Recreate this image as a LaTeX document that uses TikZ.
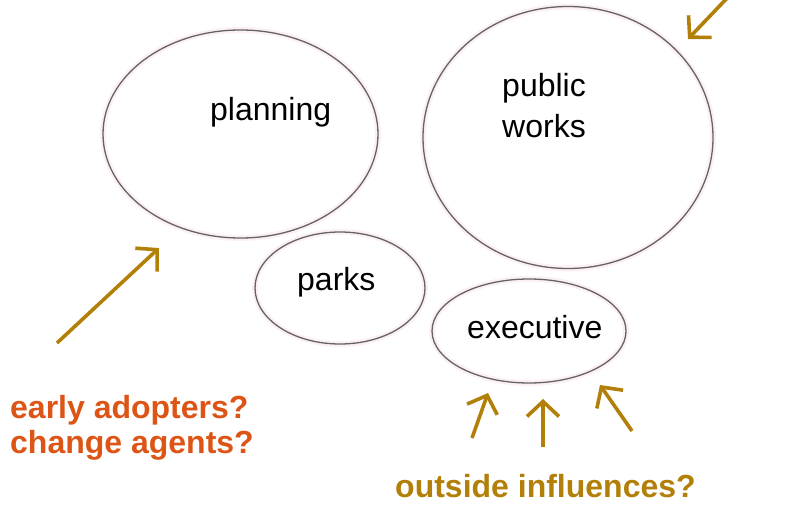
\documentclass[tikz,border=0pt]{standalone}
\usepackage{fontspec}
\setmainfont{Liberation Sans}
\usepackage{tikz}
\usetikzlibrary{shapes.geometric,arrows.meta,positioning}
\definecolor{rimgray}{RGB}{100,100,100}
\definecolor{halopink}{RGB}{252,240,243}
\definecolor{gold}{RGB}{178,128,8}
\definecolor{rust}{RGB}{221,85,22}
\tikzset{
unit/.style={shape=ellipse, draw=rimgray, line width=1.3pt, inner sep=0pt,
  preaction={draw=halopink, line width=6pt}}, % the departments
nudge/.style={draw=gold, line width=3.6pt,
  -{Straight Barb[length=15pt,width=32pt]}}, % the influence arrows
word/.style={inner sep=0pt, anchor=base west, font=\fontsize{32}{40}\selectfont},
}

\begin{document}
\begin{tikzpicture}[x=1pt,y=-1pt]
  \useasboundingbox (0,0) rectangle (799,508);
  % departments
  \node[unit, minimum width=275pt, minimum height=208pt] (planning) at (240.5,134) {};
  \node[unit, minimum width=290pt, minimum height=262pt] (publicworks) at (568,137.5) {};
  \node[unit, minimum width=170pt, minimum height=112pt] (parks) at (340,288) {};
  \node[unit, minimum width=194pt, minimum height=104pt] (executive) at (529,331) {};
  % their labels (base = last line)
  \node[word] (planninglbl) at (210,121) {planning};
  \node[word, align=left] (publicworkslbl) at (502,137) {public\\works};
  \node[word] (parkslbl) at (297,290) {parks};
  \node[word] (executivelbl) at (467,338) {executive};
  % texts outside
  \node[word, align=left, text=rust, font=\fontsize{32}{35}\selectfont\bfseries]
    (adopters) at (10,453) {early adopters?\\change agents?};
  \node[word, text=gold, font=\fontsize{32}{35}\selectfont\bfseries]
    (outside) at (395,497) {outside influences?};
  % arrows
  \coordinate (a1) at (57,343);   \coordinate (h1) at (159,248);
  \coordinate (a2) at (731,-6);   \coordinate (h2) at (688,39);
  \coordinate (a3) at (472,438);  \coordinate (h3) at (488,393);
  \coordinate (a4) at (543,447);  \coordinate (h4) at (543,399);
  \coordinate (a5) at (632,431);  \coordinate (h5) at (600,385);
  \foreach \i in {1,...,5}
    \draw[nudge] (a\i) -- (h\i);
\end{tikzpicture}
\end{document}
